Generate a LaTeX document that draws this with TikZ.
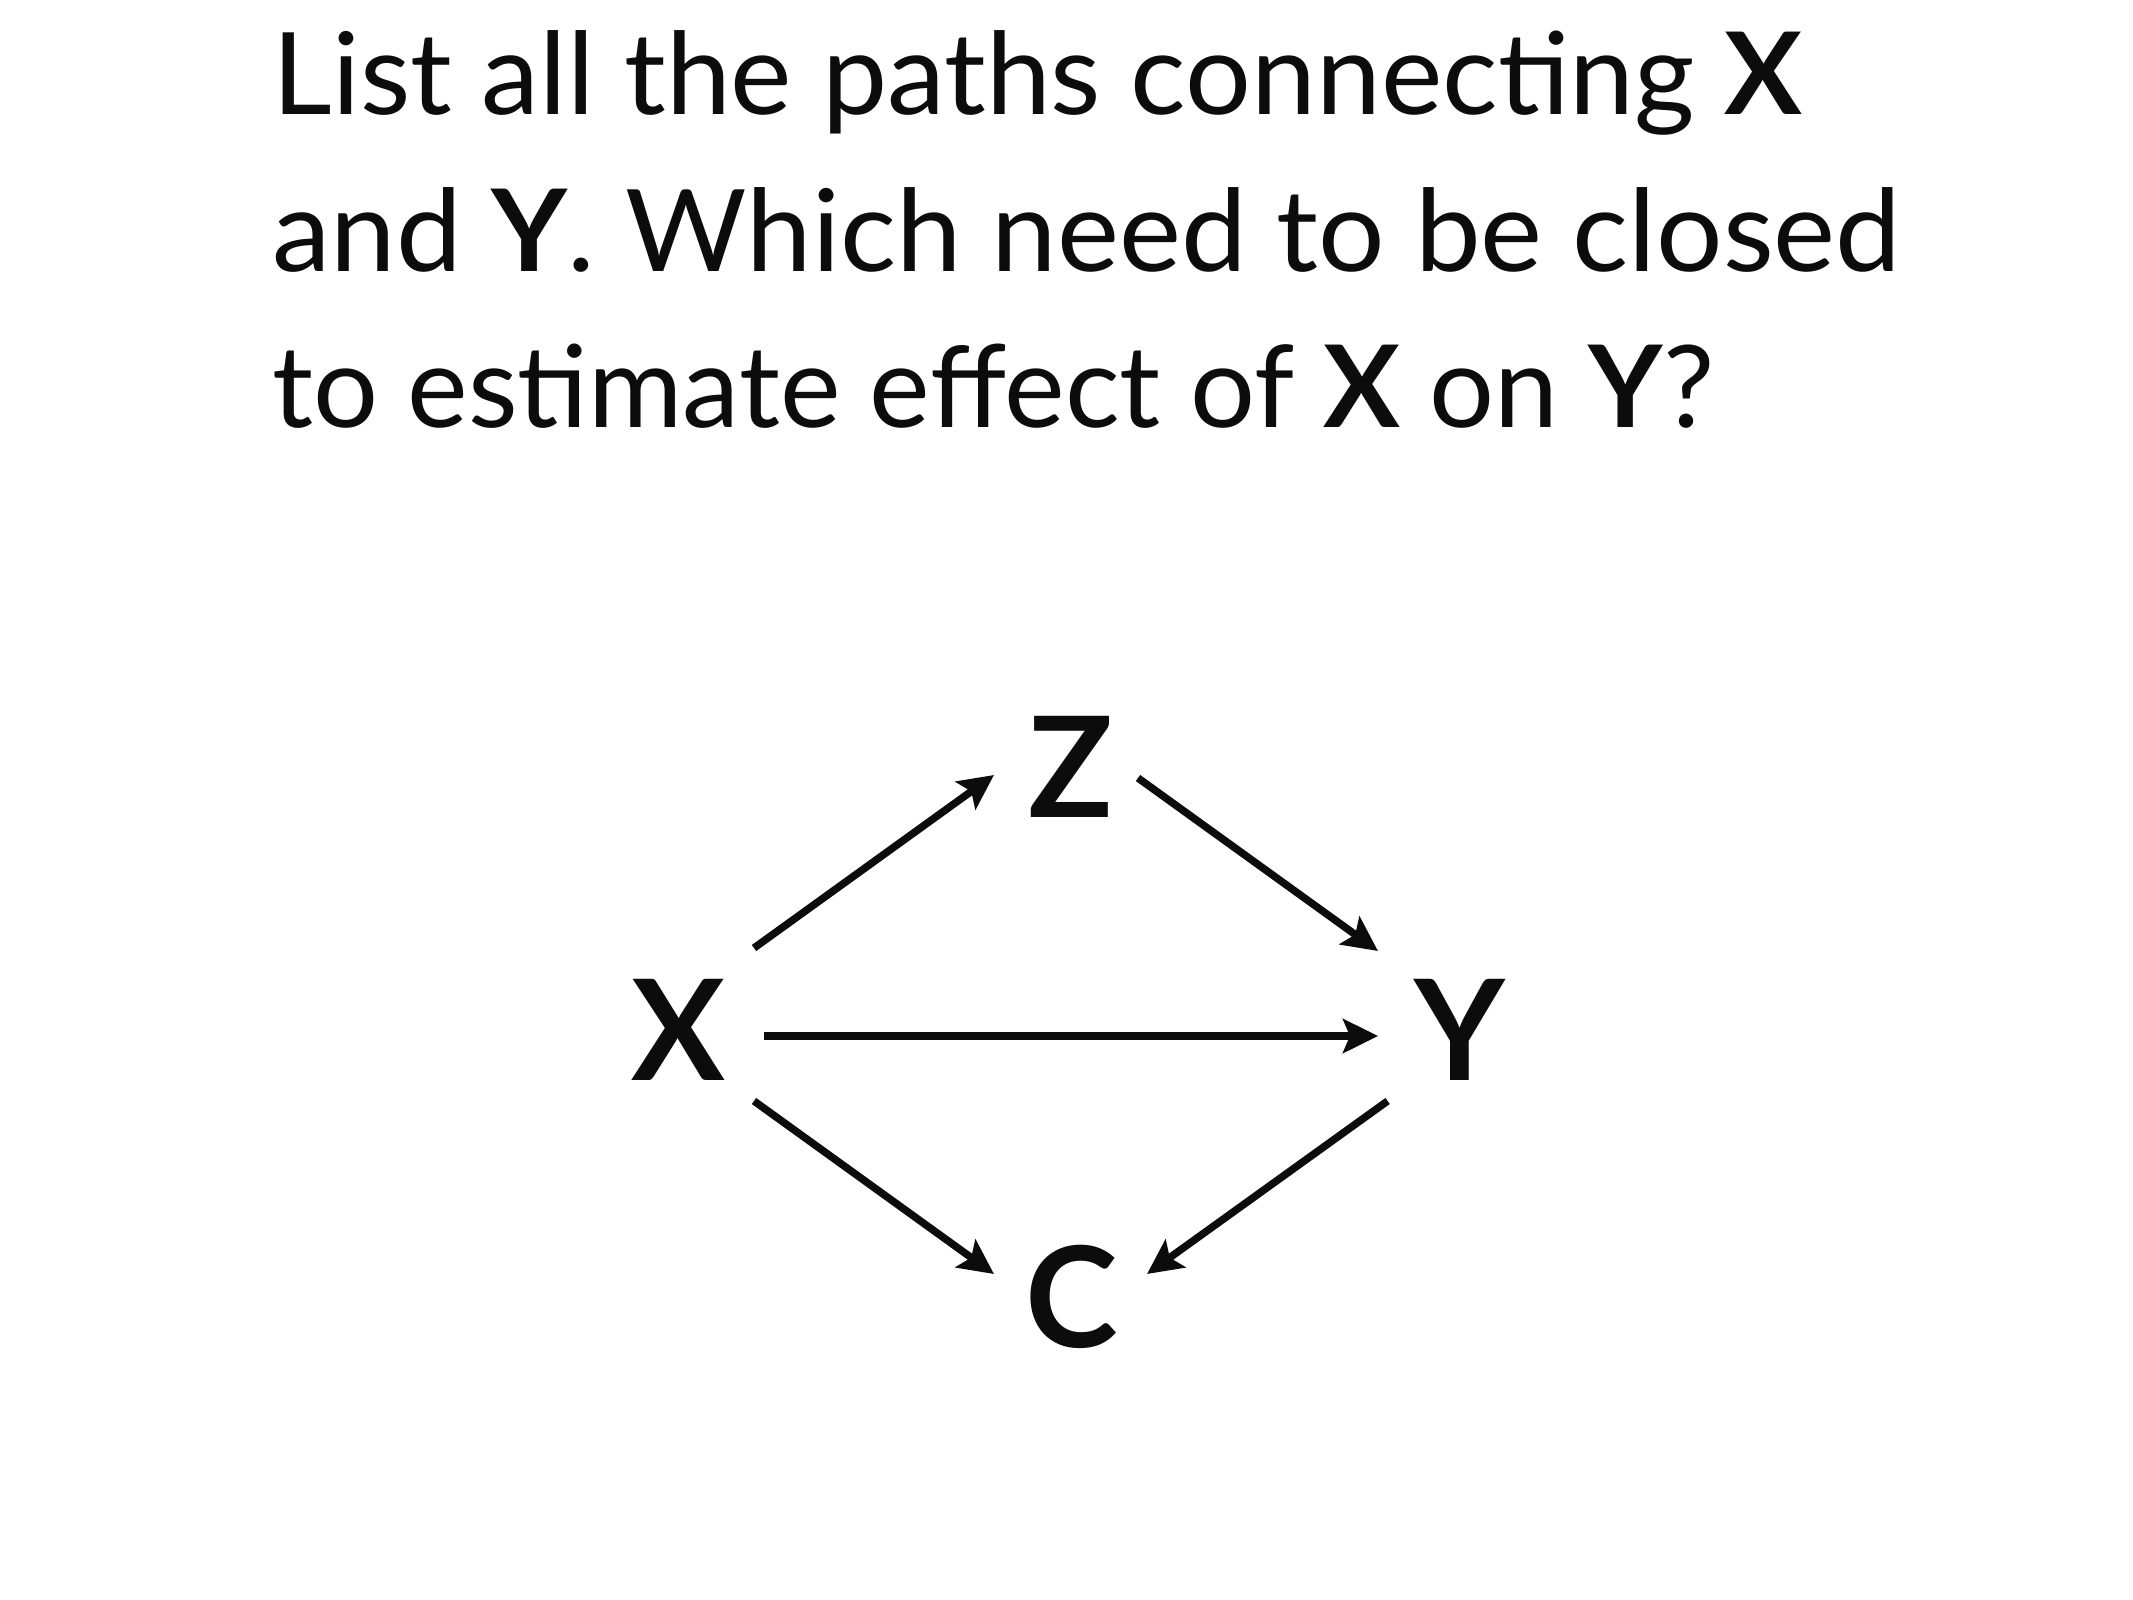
\documentclass[tikz,border=0pt]{standalone}
\usepackage{fontspec}
\setmainfont{Lato}
\usepackage{graphicx}
\usetikzlibrary{arrows.meta,calc}
\definecolor{ink}{HTML}{0B0C0B}
\begin{document}
\begin{tikzpicture}[x=0.5pt,y=-0.5pt,
  head/.style={anchor=base west, inner sep=0, text=ink, font=\fontsize{57}{68}\selectfont},
  var/.style={anchor=base, inner sep=0, text=ink, font=\fontsize{70}{84}\selectfont\bfseries},
  arr/.style={draw=ink, line width=3.75pt, -{Stealth[length=17.5pt,width=17pt,inset=3.5pt]}}]
\useasboundingbox (0,0) rectangle (2133,1600);
\node[head] (l1) at (272,115) {\resizebox{765pt}{\height}{List all the paths connecting \textbf{X}}};
\node[head] (l2) at (272,271) {\resizebox{814.5pt}{\height}{and \textbf{Y}. Which need to be closed}};
\node[head] (l3) at (272,427) {\resizebox{721pt}{\height}{to estimate effect of \textbf{X} on \textbf{Y}?}};
\node[var] (X) at (678.5,1080) {X};
\node[var] (Z) at (1071,817) {Z};
\node[var] (Y) at (1460,1080) {Y};
\node[var] (C) at (1072,1347) {C};
\draw[arr] ($(X.base)+(75.5,-132)$) -- ($(Z.base)+(-77,-42)$);
\draw[arr] ($(Z.base)+(67,-39)$) -- ($(Y.base)+(-82,-129)$);
\draw[arr] ($(X.base)+(85,-44)$) -- ($(Y.base)+(-82,-44)$);
\draw[arr] ($(X.base)+(75.5,21)$) -- ($(C.base)+(-78,-73)$);
\draw[arr] ($(Y.base)+(-72.4,21)$) -- ($(C.base)+(75,-73)$);
\end{tikzpicture}
\end{document}
